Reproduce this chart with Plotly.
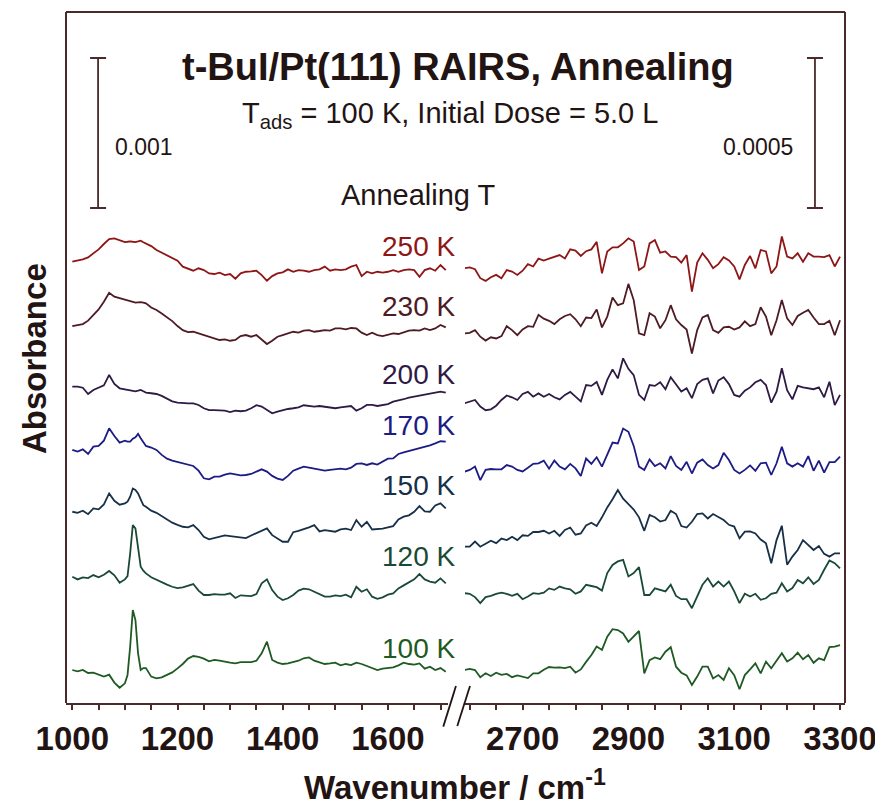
import plotly.graph_objects as go

# ---------------- data (absorbance in units of 1e-5 A) ----------------
wn_left = list(range(1000, 1101, 10)) + [1105, 1110, 1115, 1120, 1125, 1130, 1135] + list(range(1140, 1711, 10))
wn_right = list(range(2590, 3301, 10))

temps = ["250 K", "230 K", "200 K", "170 K", "150 K", "120 K", "100 K"]
colors = ["#8e1616", "#4e1a24", "#2e1a44", "#1c1c84", "#173048", "#1a4a36", "#1f5a24"]

# display offsets of the stacked spectra (1e-5 A)
offset_left = [294.2, 251.3, 210.9, 168.7, 127.5, 84.2, 22.0]
offset_right = [144.9, 123.2, 99.9, 77.1, 52.1, 36.6, 11.0]

a250_left = [0, 0.7, 1.6, 2.9, 5.6, 8.2, 11.8, 15.1, 15.6, 14.4, 13.1,
             13.3, 13.6, 13.3, 13.1, 13.5, 14.0, 13.0,
             12.2, 10.4, 7.8, 6.0, 4.2, 2.2, 0.7, -3.3, -4.4, -6.0, -4.4, -5.6, -7.8, -8.2, -7.3, -8.9, -8.2, -11.3,
             -7.8, -6.7, -6.4, -6.0, -8.9, -12.7, -9.6, -7.8, -7.1, -5.1, -6.7, -5.6, -6.0, -6.7, -5.6, -5.1, -3.3,
             -6.0, -5.1, -5.6, -5.1, -3.3, -2.2, -9.6, -6.7, -7.8, -6.7, -7.3, -6.7, -5.6, -6.7, -5.6, -5.1, -5.6,
             -10.0, -5.6, -4.4, -6.0, -2.2, -5.6]
a230_left = [0, 0.4, 1.3, 3.6, 7.3, 11.1, 16.2, 22.2, 19.6, 18.7, 17.8,
             17.1, 16.4, 16.0, 15.6, 15.8, 16.0, 15.6,
             15.1, 12.4, 10.7, 8.4, 5.8, 3.3, 0, -2.7, -4.0, -3.8, -4.9, -6.0, -7.6, -8.4, -9.3, -8.9, -9.8, -9.3,
             -6.7, -6.0, -7.1, -6.0, -8.9, -12.0, -9.8, -7.1, -6.0, -4.9, -3.8, -4.4, -3.1, -2.7, -3.8, -3.3, -2.7,
             -3.1, -1.6, -1.6, -2.2, -1.3, -1.6, -4.4, -6.0, -4.4, -6.0, -6.7, -6.0, -4.9, -5.3, -4.0, -3.1, -2.7,
             -3.1, -1.6, -2.7, -1.6, 0.7, -0.9]
a200_left = [0, 0, -0.7, -4.9, -2.2, -0.4, 0.9, 7.8, 1.8, -1.1, -1.8,
             -2.2, -2.7, -2.9, -3.1, -2.7, -2.2, -3.1,
             -4.0, -4.4, -4.9, -6.2, -7.8, -9.8, -10.7, -11.1, -11.1, -11.1, -12.2, -14.4, -15.6, -15.6, -15.6,
             -16.0, -16.9, -16.0, -16.4, -16.0, -14.4, -12.4, -13.3, -15.6, -17.8, -16.7, -15.6, -14.9, -14.4,
             -13.8, -12.4, -12.9, -13.3, -12.9, -13.3, -13.8, -14.4, -13.8, -13.3, -12.9, -16.0, -14.4, -12.2,
             -12.2, -12.9, -12.4, -11.6, -10.0, -9.3, -8.4, -7.3, -6.7, -5.8, -5.3, -4.9, -4.4, -3.3, -4.0]
a170_left = [0, -1.1, 0.4, -2.7, 2.2, 2.7, 6.2, 14.4, 9.3, 4.9, 6.2,
             5.6, 5.6, 7.5, 8.5, 10.7, 7.8, 5.0,
             2.7, 1.6, 0, -3.3, -5.8, -7.1, -8.0, -8.9, -9.8, -10.7, -13.8, -18.9, -19.6, -17.8, -17.8, -16.4,
             -15.6, -16.4, -16.9, -16.7, -16.0, -14.4, -12.9, -14.4, -17.3, -19.1, -20.0, -17.3, -13.8, -12.4,
             -11.1, -11.8, -12.4, -13.3, -13.8, -13.3, -12.9, -12.4, -12.9, -11.8, -9.3, -8.9, -10.0, -8.9, -9.8,
             -8.0, -5.8, -5.6, -2.7, -1.6, -0.7, 0, 1.1, 2.0, 3.1, 4.4, 5.8, 5.6]
a150_left = [0, -0.7, 0.7, -1.6, 2.2, 1.6, 4.9, 12.2, 7.3, 4.7, 5.6,
             6.7, 10.0, 15.5, 14.5, 12.2, 8.2, 4.4,
             3.3, 0.7, -0.7, -2.9, -5.6, -7.3, -8.7, -10.0, -10.4, -8.9, -12.2, -16.7, -18.4, -17.6, -16.7, -15.8,
             -16.2, -16.7, -16.7, -17.6, -15.8, -14.4, -12.7, -11.1, -15.6, -18.0, -20.0, -20.0, -13.6, -12.7,
             -11.8, -10.4, -8.9, -13.1, -12.2, -12.7, -13.3, -11.8, -11.3, -12.2, -5.6, -10.0, -6.7, -11.8, -11.8,
             -11.3, -10.4, -9.6, -5.1, -3.3, -2.4, 0, 3.8, 0.2, 0, 4.2, 5.6, 2.2]
a120_left = [0, -1.8, -0.4, -0.9, 1.1, -0.4, 1.3, 3.8, 0.9, -4.0, -1.8,
             0.4, 15.6, 34.4, 32.2, 20.0, 6.7, 4.0,
             2.2, -0.4, -2.2, -3.8, -5.3, -6.7, -7.6, -7.1, -6.2, -4.9, -9.3, -12.2, -12.2, -11.6, -12.0, -12.0,
             -11.1, -14.2, -12.4, -12.9, -12.9, -11.6, -4.4, -1.8, -8.9, -13.3, -15.6, -14.4, -12.2, -9.3, -8.0,
             -8.4, -10.0, -11.6, -13.3, -13.3, -12.4, -12.9, -12.0, -13.8, -6.7, -10.0, -8.4, -13.3, -14.7, -13.8,
             -12.0, -11.1, -7.8, -5.8, -4.0, -1.8, 1.8, -1.8, -3.3, -4.0, -1.1, -4.4]
a100_left = [0, -0.9, 0, -2.0, -1.8, -3.3, -4.4, -3.1, -8.4, -11.8, -8.9,
             -3.3, 15.6, 40.0, 33.3, 11.1, 0, 1.3,
             1.3, -4.4, -5.6, -4.9, -3.3, -1.6, 1.1, 4.0, 7.6, 9.3, 8.7, 7.6, 5.8, 6.7, 6.2, 5.3, 4.9, 4.4, 5.3,
             5.3, 5.3, 6.2, 11.1, 18.9, 6.7, 4.9, 4.0, 4.4, 5.1, 6.2, 7.8, 8.4, 6.2, 4.9, 4.0, 4.4, 4.9, 3.1, 4.0,
             3.3, 4.9, 4.0, 2.7, 1.1, 0, 0.9, 1.3, 1.8, 3.1, 4.9, 4.0, 3.6, 4.4, 0.9, 2.2, 0, 1.3, -1.1]

a250_right = [0, 0.3, -0.3, -3.3, -4.2, -3.0, -2.2, -3.3, -0.6, -1.1,
              -2.2, -0.8, 1.4, 0.6, 3.2, 2.6, 3.2, 3.9, 4.4, 3.3,
              6.3, 5.9, 4.1, 5.7, 6.3, 8.8, -1.7, 5.6, 7.0, 7.0,
              8.3, 10.0, 8.9, -0.6, 0.6, 8.3, 9.4, 5.2, 5.6, 3.9,
              3.7, 1.9, 4.4, -7.8, 1.9, 5.0, 2.8, 0, 1.4, 3.7,
              2.6, 0.6, -3.7, 1.1, 4.1, 0, 6.1, 5.6, -1.7, 0.6,
              10.6, 3.9, 3.3, 5.0, 2.2, 5.0, 3.9, 3.9, 3.7, 4.4,
              0.6, 3.9]
a230_right = [0, 0.2, 1.1, -1.1, -2.4, -1.3, -1.7, -0.9, 2.4, 1.1,
              -0.6, 1.3, 2.4, 2.2, 6.2, 4.9, 4.2, 3.1, 4.7, 5.8,
              6.4, 4.7, 2.4, 5.3, 5.1, 8.0, 2.0, 5.6, 12.0, 9.4,
              10.0, 16.5, 11.1, 0, -0.6, 6.7, 5.6, 1.7, 4.4, 9.4,
              4.7, 2.8, 1.3, -6.7, 1.1, 5.3, 6.1, 1.1, 0.2, 2.0,
              2.2, 1.3, 2.0, 4.0, 2.4, 3.1, 8.7, 5.6, -0.6, 4.4,
              11.1, 5.0, 2.8, 5.8, 6.9, 7.8, 5.3, 3.1, 3.1, 4.2,
              -0.6, 4.4]
a200_right = [0, 0.6, 1.1, -1.1, -2.3, -2.0, -0.8, 1.1, 2.6, 2.0,
              1.1, 3.1, 3.8, 2.2, 3.3, 2.2, 3.1, 2.0, 1.3, 2.8,
              3.8, 2.2, 0.6, 6.1, 5.8, 7.1, 2.8, 7.8, 11.3, 8.3,
              15.0, 11.5, 9.4, 2.8, 1.1, 6.1, 5.8, 7.0, 4.7, 8.7,
              6.1, 3.9, 5.0, 1.7, 6.4, 7.8, 8.3, 3.3, 7.6, 8.7,
              6.4, 2.8, 2.2, 4.2, 5.3, 7.0, 7.8, 6.1, 0.2, 3.9,
              11.7, 4.4, 1.3, 5.8, 5.3, 5.0, 4.7, 5.3, 2.0, 7.2,
              -0.6, 2.8]
a170_right = [0, 0.6, 1.7, -2.8, 0.6, 0.9, 0.8, 0.8, 2.2, 1.7,
              0.6, 0.1, 1.3, 2.6, 2.8, 3.7, 1.0, 3.7, 1.7, 0.8,
              2.6, 1.1, -1.4, 4.4, 2.6, 4.8, 1.7, 5.6, 9.7, 9.4,
              14.4, 13.3, 8.6, 1.7, 0.6, 4.1, 1.9, 2.8, 1.1, 5.2,
              1.9, 0.6, 3.3, -0.6, 3.0, 4.1, 2.2, 1.1, 2.2, 6.3,
              3.9, 0.6, -0.6, 0.6, 2.1, 0.3, 2.8, 3.0, -1.1, 2.8,
              8.3, 2.8, 1.7, 2.8, 1.7, 5.2, 0.3, 3.7, -0.3, 3.2,
              3.2, 5.0]
a150_right = [0, 0, 1.7, 0, 1.0, 2.0, 1.2, 2.7, 2.2, 3.3,
              2.2, 3.8, 3.6, 4.9, 4.9, 5.3, 4.4, 5.3, 3.6, 5.6,
              6.4, 4.0, 4.4, 7.1, 8.0, 6.9, 9.8, 13.1, 15.8, 18.9,
              16.0, 14.1, 12.4, 9.8, 5.3, 10.6, 9.8, 8.4, 8.9, 12.0,
              10.9, 6.9, 6.4, 8.3, 10.9, 11.1, 9.4, 10.9, 9.8, 8.9,
              7.3, 6.7, 2.8, 5.0, 5.1, 4.4, 2.4, 1.1, -5.5, 2.2,
              7.0, -6.0, -3.3, -1.1, 2.2, 0.7, -1.1, 0.2, -2.4, -3.3,
              -2.2, -2.2]
a120_right = [0, -0.2, -1.3, -3.3, -1.3, -0.9, -0.2, 0.2, -0.2, -0.9,
              -0.2, -2.0, -1.1, 0, -0.2, 0.2, 1.6, 1.1, 2.2, 1.6,
              1.3, -0.2, 0.6, 2.8, 2.4, 2.0, 0.9, 6.7, 9.4, 10.6,
              11.1, 5.6, 6.7, 8.7, -0.6, -0.6, 1.6, 1.1, 0.6, 2.8,
              -0.9, -2.0, -2.0, -5.0, -1.3, 2.8, 5.0, 2.2, 3.9, 2.2,
              3.9, 0.6, -3.3, -0.2, -1.1, -0.2, -2.2, -1.7, -0.2, 0.2,
              3.3, 0.6, 1.7, 4.4, 3.3, 5.3, 3.1, 4.4, 7.8, 10.9,
              10.0, 8.3]
a100_right = [0, 0.4, 0, -2.4, -1.1, -2.0, -0.9, -1.6, -1.3, -2.4,
              -1.8, -2.2, -2.7, -1.1, -1.1, 0.1, 1.0, 0.8, 0.9, 0.6,
              1.1, -0.9, 0.2, 2.7, 5.0, 7.8, 6.7, 11.1, 13.6, 13.3,
              12.2, 9.4, 11.3, 13.0, -1.1, 3.3, 4.2, 3.6, 6.1, 7.6,
              1.1, -0.9, -1.8, -5.0, -2.2, 1.1, 1.1, -2.8, -1.7, -3.3,
              0.6, -1.7, -6.4, -1.7, 0.2, 2.2, -1.1, 2.8, 0.6, 3.3,
              5.6, 2.8, 3.9, 5.8, 3.6, 5.0, 2.4, 3.9, 3.3, 7.6,
              7.8, 8.3]

spectra_left = [a250_left, a230_left, a200_left, a170_left, a150_left, a120_left, a100_left]
spectra_right = [a250_right, a230_right, a200_right, a170_right, a150_right, a120_right, a100_right]

UNIT = 1e-5                      # data unit in absorbance
scale_left = 0.001               # scale bar, low-frequency panel
scale_right = 0.0005             # scale bar, C-H stretch panel
x_ticks_left = [1000, 1200, 1400, 1600]
x_ticks_right = [2700, 2900, 3100, 3300]

# ---------------- styles ----------------
FRAME = "#4a2a2a"
TEXT = "#231414"
FONT = "Liberation Sans, Arial, Helvetica, sans-serif"

fig = go.Figure()

for name, col, oL, oR, sL, sR in zip(temps, colors, offset_left, offset_right, spectra_left, spectra_right):
    fig.add_trace(go.Scatter(x=wn_left, y=[oL + v for v in sL], xaxis="x", yaxis="y", mode="lines",
                             line=dict(color=col, width=1.8), name=name, showlegend=False, hoverinfo="skip"))
    fig.add_trace(go.Scatter(x=wn_right, y=[oR + v for v in sR], xaxis="x2", yaxis="y2", mode="lines",
                             line=dict(color=col, width=1.8), name=name, showlegend=False, hoverinfo="skip"))

# scale bars drawn on the data axes
fig.add_trace(go.Scatter(x=[1049], y=[380], xaxis="x", yaxis="y", mode="markers",
                         marker=dict(size=1, color="rgba(0,0,0,0)"), showlegend=False, hoverinfo="skip",
                         error_y=dict(type="data", array=[scale_left / UNIT / 2], width=8, thickness=1.8, color=FRAME)))
fig.add_trace(go.Scatter(x=[3252.6], y=[190], xaxis="x2", yaxis="y2", mode="markers",
                         marker=dict(size=1, color="rgba(0,0,0,0)"), showlegend=False, hoverinfo="skip",
                         error_y=dict(type="data", array=[scale_right / UNIT / 2], width=8, thickness=1.8, color=FRAME)))

tickfont = dict(family=FONT, size=33, color=TEXT, weight=700)
xcommon = dict(ticks="outside", ticklen=5, tickwidth=1.5, tickcolor=FRAME, showline=True, linecolor=FRAME,
               linewidth=2, showgrid=False, zeroline=False, tickfont=tickfont, fixedrange=True)

fig.update_layout(
    width=875, height=799,
    margin=dict(l=58, r=38, t=4, b=104),
    paper_bgcolor="white", plot_bgcolor="white",
    xaxis=dict(domain=[0, 0.4904], range=[988.0, 1714.3], anchor="y", tickvals=x_ticks_left,
               minor=dict(dtick=50, tick0=1000, ticks="outside", ticklen=5, tickwidth=1.5, tickcolor=FRAME,
                          showgrid=False), **xcommon),
    xaxis2=dict(domain=[0.5122, 1], range=[2591.1, 3309.4], anchor="y2", tickvals=x_ticks_right,
                minor=dict(dtick=50, tick0=2700, ticks="outside", ticklen=5, tickwidth=1.5, tickcolor=FRAME,
                           showgrid=False), **xcommon),
    yaxis=dict(domain=[0, 1], range=[0, 460.67], visible=False, fixedrange=True),
    yaxis2=dict(domain=[0, 1], range=[0, 230.33], anchor="x2", visible=False, fixedrange=True),
    showlegend=False,
)

# frame (top, left, right) and axis break marks
shapes = [
    dict(type="line", xref="paper", yref="paper", x0=0, x1=1, y0=1, y1=1, line=dict(color=FRAME, width=2)),
    dict(type="line", xref="paper", yref="paper", x0=0, x1=0, y0=0, y1=1, line=dict(color=FRAME, width=2)),
    dict(type="line", xref="paper", yref="paper", x0=1, x1=1, y0=0, y1=1, line=dict(color=FRAME, width=2)),
    dict(type="line", xref="paper", yref="paper", x0=0.4843, x1=0.5006, y0=-0.0342, y1=0.0246,
         line=dict(color=TEXT, width=1.8)),
    dict(type="line", xref="paper", yref="paper", x0=0.5023, x1=0.5186, y0=-0.0333, y1=0.0246,
         line=dict(color=TEXT, width=1.8)),
]
fig.update_layout(shapes=shapes)

ann = []
ann.append(dict(text="<b>t-BuI/Pt(111) RAIRS, Annealing</b>", x=0.5032, y=0.9204, xref="paper", yref="paper",
                xanchor="center", yanchor="middle", showarrow=False, font=dict(family=FONT, size=38, color=TEXT)))
ann.append(dict(text="T<sub>ads</sub> = 100 K, Initial Dose = 5.0 L", x=0.4929, y=0.8509, xref="paper",
                yref="paper", xanchor="center", yanchor="middle", showarrow=False,
                font=dict(family=FONT, size=29, color=TEXT)))
ann.append(dict(text="Annealing T", x=0.4525, y=0.7347, xref="paper", yref="paper", xanchor="center",
                yanchor="middle", showarrow=False, font=dict(family=FONT, size=29, color=TEXT)))
ann.append(dict(text="0.001", x=0.0603, y=0.8046, xref="paper", yref="paper", xanchor="left",
                yanchor="middle", showarrow=False, font=dict(family=FONT, size=23, color=TEXT)))
ann.append(dict(text="0.0005", x=0.9358, y=0.8046, xref="paper", yref="paper", xanchor="right",
                yanchor="middle", showarrow=False, font=dict(family=FONT, size=23, color=TEXT)))
label_y = [0.6609, 0.5731, 0.4757, 0.4019, 0.3151, 0.2123, 0.0787]
for name, col, ly in zip(temps, colors, label_y):
    ann.append(dict(text=name, x=0.5019, y=ly, xref="paper", yref="paper", xanchor="right", yanchor="middle",
                    showarrow=False, font=dict(family=FONT, size=28, color=col)))
ann.append(dict(text="<b>Wavenumber / cm<sup>-1</sup></b>", x=0.4994, y=-0.1187, xref="paper", yref="paper",
                xanchor="center", yanchor="middle", showarrow=False, font=dict(family=FONT, size=33, color=TEXT)))
ann.append(dict(text="<b>Absorbance</b>", x=-0.0398, y=0.4993, xref="paper", yref="paper", xanchor="center",
                yanchor="middle", textangle=-90, showarrow=False, font=dict(family=FONT, size=33, color=TEXT)))
fig.update_layout(annotations=ann)

fig.write_html("out.html")
